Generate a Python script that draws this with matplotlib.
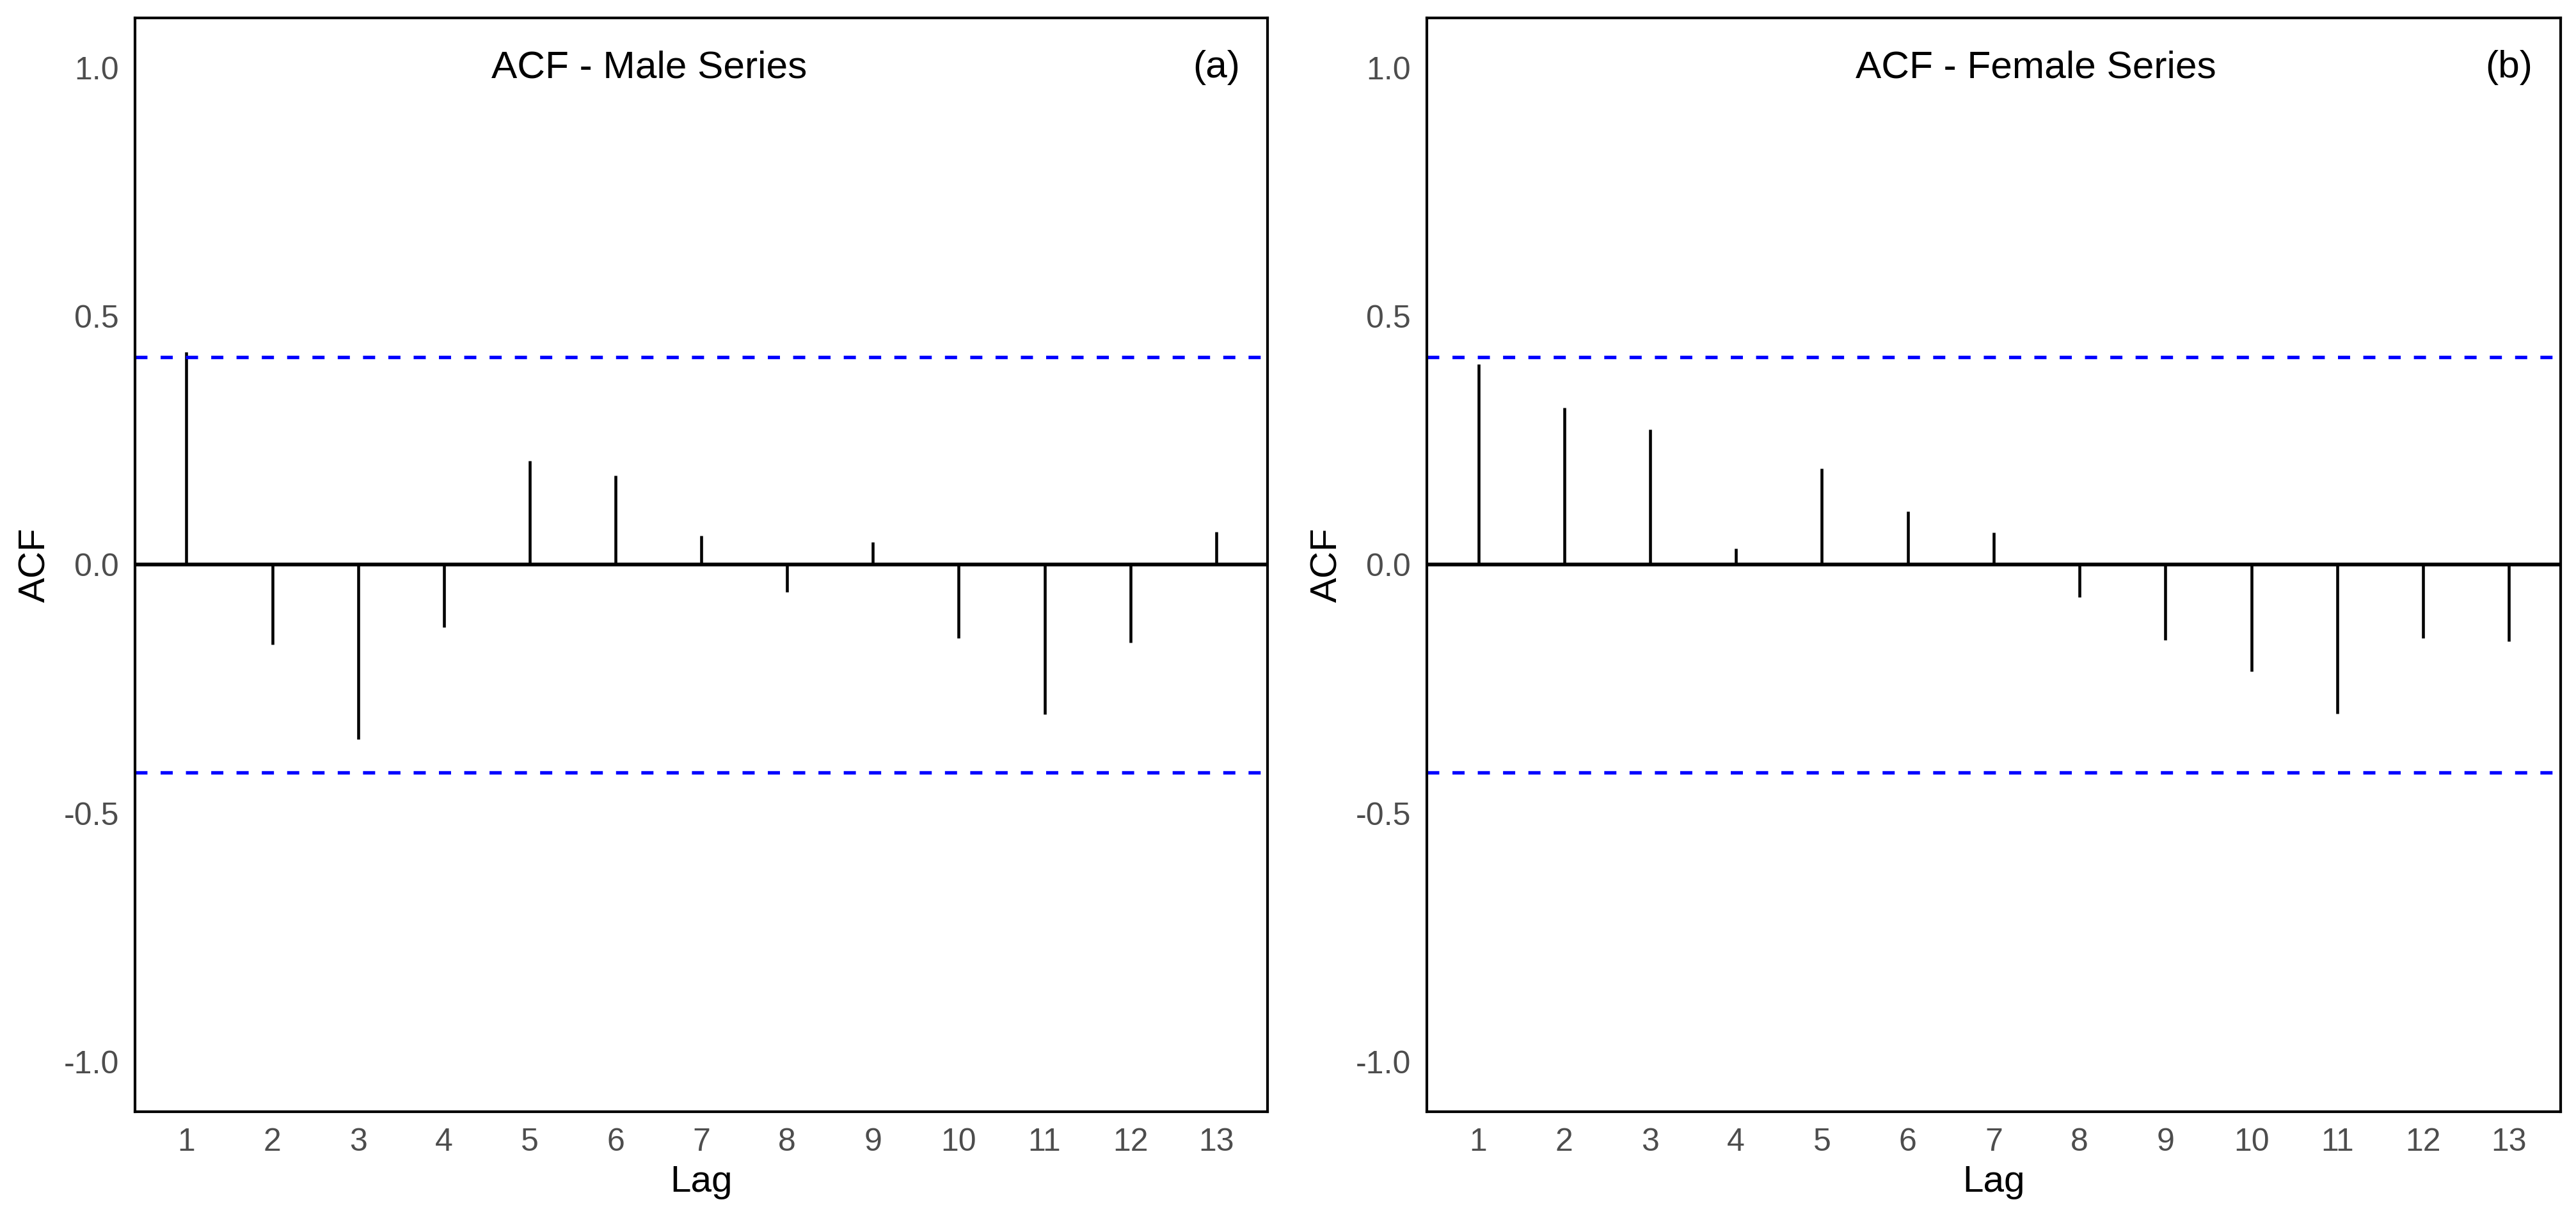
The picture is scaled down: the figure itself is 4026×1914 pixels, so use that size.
import numpy as np
import matplotlib.pyplot as plt

plt.rcParams['font.family'] = ['Liberation Sans', 'DejaVu Sans']

lags = np.arange(1, 14)
acf_male = [0.428, -0.160, -0.351, -0.126, 0.209, 0.180, 0.058,
            -0.055, 0.046, -0.147, -0.301, -0.157, 0.066]
acf_female = [0.403, 0.316, 0.272, 0.033, 0.194, 0.107, 0.065,
              -0.065, -0.151, -0.214, -0.299, -0.147, -0.154]
conf = 0.418
titles = ['ACF - Male Series', 'ACF - Female Series']
tags = ['(a)', '(b)']
title_x = [0.454, 0.537]

fig = plt.figure(figsize=(13.42, 6.38), dpi=300)
ax1 = fig.add_axes([0.0524, 0.0925, 0.4397, 0.8929])
ax2 = fig.add_axes([0.5539, 0.0925, 0.4401, 0.8929])

for ax, vals, title, tag, tx in zip([ax1, ax2], [acf_male, acf_female],
                                    titles, tags, title_x):
    ax.vlines(lags, 0, vals, color='black', lw=1.1)
    ax.axhline(0, color='black', lw=1.4)
    ax.axhline(conf, color='blue', lw=1.3, ls=(0, (3.5, 3.8)))
    ax.axhline(-conf, color='blue', lw=1.3, ls=(0, (3.5, 3.8)))
    ax.set_xlim(0.4, 13.6)
    ax.set_ylim(-1.1, 1.1)
    ax.set_xticks(lags)
    ax.set_yticks([-1.0, -0.5, 0.0, 0.5, 1.0])
    ax.set_yticklabels(['-1.0', '-0.5', '0.0', '0.5', '1.0'])
    ax.tick_params(length=0, labelsize=12, labelcolor='#4D4D4D', pad=6)
    for s in ax.spines.values():
        s.set_linewidth(1.0)
        s.set_color('black')
    ax.set_xlabel('Lag', fontsize=14, labelpad=3)
    ax.set_ylabel('ACF', fontsize=14, labelpad=4)
    ax.text(tx, 1.0, title, transform=ax.get_yaxis_transform(),
            ha='center', va='center', fontsize=14.5)
    ax.text(13, 1.0, tag, ha='center', va='center', fontsize=14.5)

fig.savefig('out.png', dpi=300)
